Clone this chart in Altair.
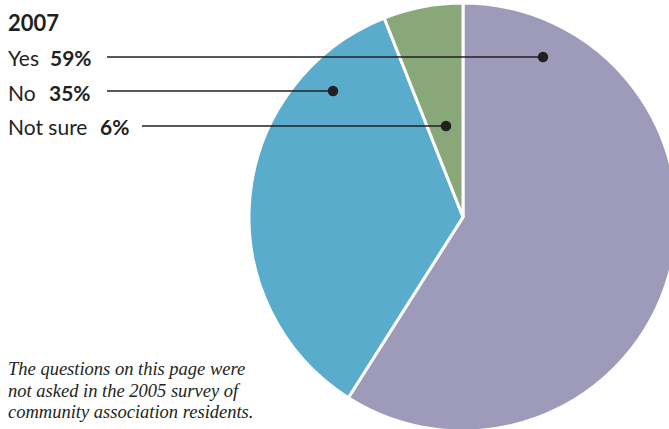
import altair as alt
import pandas as pd

answers = ["Yes", "No", "Not sure"]
shares = [59, 35, 6]
pct_labels = ["59%", "35%", "6%"]
colors = ["#9E9AB9", "#5AACCD", "#88A87A"]
year_title = "2007"
footnote = [
    "The questions on this page were",
    "not asked in the 2005 survey of",
    "community association residents.",
]

df = pd.DataFrame({"answer": answers, "share": shares, "idx": list(range(len(answers)))})

W, H = 669, 429
one = pd.DataFrame({"a": [0]})
SANS = "Lato"
INK = "#231F20"

pie = alt.Chart(df).mark_arc(radius=214, stroke="white", strokeWidth=3).encode(
    theta=alt.Theta("share:Q", stack=True),
    color=alt.Color("answer:N", scale=alt.Scale(domain=answers, range=colors), legend=None),
    order=alt.Order("idx:Q"),
    x=alt.value(463),
    y=alt.value(217),
)


def txt(s, x, y, size=21, weight="normal", font=SANS, style="normal"):
    return alt.Chart(one).mark_text(
        text=s, align="left", baseline="alphabetic", fontSize=size,
        fontWeight=weight, font=font, fontStyle=style, color=INK,
    ).encode(x=alt.value(x), y=alt.value(y))


def leader(x1, x2, y):
    r = alt.Chart(one).mark_rule(color=INK, strokeWidth=1.5).encode(
        x=alt.value(x1), x2=alt.value(x2), y=alt.value(y))
    d = alt.Chart(one).mark_circle(color=INK, opacity=1, size=110).encode(
        x=alt.value(x2), y=alt.value(y))
    return [r, d]


layers = [pie]
layers.append(txt(year_title, 8, 31, size=22, weight="bold"))
# Yes
layers.append(txt(answers[0], 8, 66))
layers.append(txt(pct_labels[0], 50, 66, weight="bold"))
layers += leader(107, 543, 57)
# No
layers.append(txt(answers[1], 8, 101))
layers.append(txt(pct_labels[1], 49, 101, weight="bold"))
layers += leader(107, 333, 91)
# Not sure
layers.append(txt(answers[2], 8, 135))
layers.append(txt(pct_labels[2], 100, 135, weight="bold"))
layers += leader(142, 446, 126)
# footnote
for i, line in enumerate(footnote):
    layers.append(txt(line, 8, 375 + i * 21.5, size=18.5, font="Liberation Serif", style="italic"))

chart = alt.layer(*layers).properties(
    width=W, height=H, autosize=alt.AutoSizeParams(type="none"), padding=0
).configure_view(stroke=None)

chart.save("out.html", embed_options={"renderer": "svg", "actions": False})
